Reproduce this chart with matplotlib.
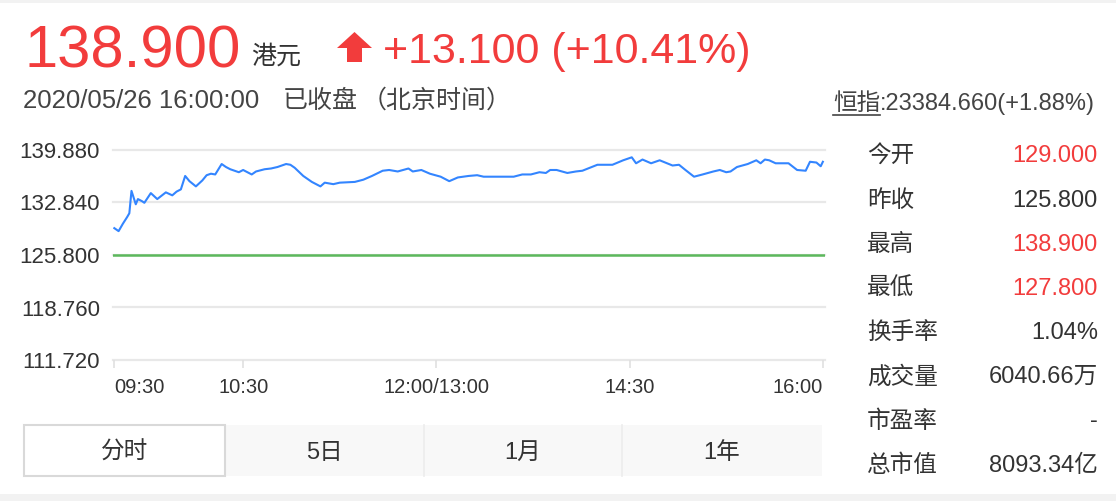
import matplotlib
matplotlib.use("Agg")
import matplotlib.pyplot as plt
from matplotlib.patches import Polygon, Rectangle
from matplotlib.lines import Line2D

plt.rcParams['font.family'] = ['Liberation Sans', 'Noto Sans CJK SC', 'DejaVu Sans']

# ---------------- data ----------------
# trading minutes since 09:30 (12:00 and 13:00 share index 150)
minutes = [0, 2, 4, 6, 7, 8, 10, 11, 13, 14, 17, 20, 24, 27, 29, 31, 33, 35, 38, 41,
           43, 45, 47, 50, 52, 54, 58, 60, 64, 66, 70, 73, 76, 80, 82, 84, 88, 92, 96, 98,
           102, 105, 112, 116, 120, 125, 128, 132, 137, 139, 143, 147, 152, 156, 160, 165,
           169, 172, 186, 190, 194, 198, 201, 203, 206, 211, 215, 218, 225, 232, 237, 241,
           243, 246, 250, 254, 260, 263, 266, 270, 274, 279, 282, 285, 287, 290, 295, 299,
           301, 303, 305, 308, 314, 318, 322, 324, 327, 329, 330]
prices = [129.4, 129.0, 130.0, 130.9, 131.4, 134.4, 132.6, 133.3, 133.0, 132.8, 134.1, 133.3,
          134.2, 133.8, 134.3, 134.6, 136.4, 135.7, 135.0, 135.8, 136.5, 136.7, 136.6, 138.0,
          137.6, 137.3, 136.9, 137.2, 136.6, 137.0, 137.3, 137.4, 137.6, 138.0, 137.9, 137.5,
          136.4, 135.6, 135.0, 135.5, 135.3, 135.5, 135.6, 135.9, 136.4, 137.1, 137.2, 137.0,
          137.4, 137.0, 137.2, 136.7, 136.3, 135.7, 136.2, 136.4, 136.5, 136.3, 136.3, 136.6,
          136.6, 136.9, 136.8, 137.2, 137.2, 136.8, 137.0, 137.1, 137.9, 137.9, 138.5, 138.9,
          138.1, 138.6, 138.1, 138.5, 137.8, 137.9, 137.2, 136.3, 136.6, 137.0, 137.2, 136.9,
          137.0, 137.6, 138.0, 138.5, 138.1, 138.6, 138.5, 138.1, 138.1, 137.2, 137.1, 138.3,
          138.2, 137.7, 138.3]
prev_close = 125.80
y_ticks = [111.72, 118.76, 125.80, 132.84, 139.88]
y_tick_labels = ['111.720', '118.760', '125.800', '132.840', '139.880']
x_ticks = [0, 60, 150, 240, 330]
x_tick_labels = ['09:30', '10:30', '12:00/13:00', '14:30', '16:00']

price_text = '138.900'
currency = '港元'
change_text = '+13.100 (+10.41%)'
time_text = '2020/05/26 16:00:00'
status_text = '已收盘'
tz_text = '（北京时间）'
index_name = '恒指'
index_value = ':23384.660(+1.88%)'

stat_labels = ['今开', '昨收', '最高', '最低', '换手率', '成交量', '市盈率', '总市值']
stat_values = ['129.000', '125.800', '138.900', '127.800', '1.04%', '6040.66万', '-', '8093.34亿']
stat_red = [True, False, True, True, False, False, False, False]

tabs = ['分时', '5日', '1月', '1年']

# ---------------- figure ----------------
W, H = 1116, 501
fig = plt.figure(figsize=(W / 100, H / 100), dpi=100)
fig.patch.set_facecolor('white')

def fx(x):
    return x / W

def fy(y):
    return 1 - y / H

RED = '#f23c3c'
DARK = '#333333'
GRAY_T = '#444444'

# light page bands
fig.add_artist(Rectangle((0, fy(3)), 1, 3 / H, transform=fig.transFigure,
                         facecolor='#f2f2f2', edgecolor='none'))
fig.add_artist(Rectangle((0, 0), 1, 7 / H, transform=fig.transFigure,
                         facecolor='#f2f2f2', edgecolor='none'))

# header
fig.text(fx(24), fy(67), price_text, fontsize=43, color=RED, ha='left', va='baseline')
fig.text(fx(251), fy(64), currency, fontsize=18, color=DARK, ha='left', va='baseline')
arrow = [(354.5, 32), (372, 48), (362, 48), (362, 62), (347, 62), (347, 48), (337, 48)]
fig.add_artist(Polygon([(fx(a), fy(b)) for a, b in arrow], closed=True,
                       transform=fig.transFigure, facecolor=RED, edgecolor='none'))
fig.text(fx(383), fy(63), change_text, fontsize=31, color=RED, ha='left', va='baseline')

fig.text(fx(23), fy(108), time_text, fontsize=18.5, color=GRAY_T, ha='left', va='baseline')
fig.text(fx(283), fy(108), status_text, fontsize=18, color=GRAY_T, ha='left', va='baseline')
fig.text(fx(362), fy(108), tz_text, fontsize=18, color=GRAY_T, ha='left', va='baseline')

fig.text(fx(833), fy(110), index_name, fontsize=17, color=GRAY_T, ha='left', va='baseline')
fig.text(fx(880), fy(110), index_value, fontsize=17, color=GRAY_T, ha='left', va='baseline')
fig.add_artist(Line2D([fx(833), fx(880)], [fy(115), fy(115)], transform=fig.transFigure,
                      color=GRAY_T, lw=1.2))

# ---------------- chart ----------------
ax = fig.add_axes([fx(113.3), fy(360), (825 - 113.3) / W, (360 - 150) / H])
ax.set_facecolor('none')
ax.set_xlim(-0.47, 331.0)
ax.set_ylim(y_ticks[0], y_ticks[-1])
for v in y_ticks:
    ax.axhline(v, color='#e8e8e8', lw=1.6, zorder=0, clip_on=False)
ax.axhline(prev_close, color='#5cb85c', lw=1.8, zorder=2)
ax.plot(minutes, prices, color='#3385ff', lw=1.5, zorder=3)

for s in ax.spines.values():
    s.set_visible(False)
ax.set_yticks(y_ticks)
ax.set_yticklabels(y_tick_labels)
ax.tick_params(axis='y', length=0, pad=9.5, labelsize=16, labelcolor=DARK)
ax.set_xticks(x_ticks)
ax.set_xticklabels(x_tick_labels)
ax.tick_params(axis='x', length=6, width=1.2, color='#e0e0e0', direction='out',
               pad=7, labelsize=14.5, labelcolor=DARK)
xl = ax.get_xticklabels()
xl[0].set_ha('left')
xl[-1].set_ha('right')

# ---------------- stats panel ----------------
for i, (lab, val, red) in enumerate(zip(stat_labels, stat_values, stat_red)):
    yc = 154 + i * 44.14
    fig.text(fx(867), fy(yc), lab, fontsize=17, color=DARK, ha='left', va='center_baseline')
    fig.text(fx(1098), fy(yc), val, fontsize=17, color=RED if red else DARK,
             ha='right', va='center_baseline')

# ---------------- tabs ----------------
tab_edges = [24, 225, 424, 622, 822]
fig.add_artist(Rectangle((fx(225), fy(476)), (822 - 225) / W, 51 / H, transform=fig.transFigure,
                         facecolor='#f8f8f8', edgecolor='none'))
for xe in tab_edges[2:4]:
    fig.add_artist(Line2D([fx(xe), fx(xe)], [fy(476), fy(425)], transform=fig.transFigure,
                          color='#ececec', lw=1.2))
fig.add_artist(Rectangle((fx(24), fy(476)), (225 - 24) / W, 51 / H, transform=fig.transFigure,
                         facecolor='white', edgecolor='#d9d9d9', lw=1.5))
for i, t in enumerate(tabs):
    xc = (tab_edges[i] + tab_edges[i + 1]) / 2
    fig.text(fx(xc), fy(450.5), t, fontsize=17, color=DARK, ha='center', va='center_baseline')

fig.savefig('out.png', dpi=100)
